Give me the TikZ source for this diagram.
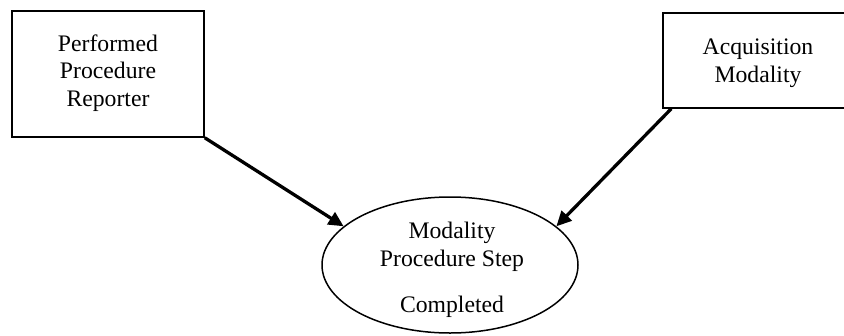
\documentclass[tikz,border=0pt]{standalone}
\usepackage{fontspec}
\setmainfont{Liberation Serif}
\usetikzlibrary{shapes.geometric,arrows.meta,calc}
\tikzset{
  boxnode/.style={draw, line width=1.5pt, inner sep=0pt},
  txt/.style={font=\fontsize{23.7}{27.5}\selectfont, align=center, inner sep=0pt},
  conn/.style={line width=3.3pt, -{Triangle[length=15pt,width=14pt]}}
}
\begin{document}
\begin{tikzpicture}[x=1pt,y=-1pt]
\clip (0,0) rectangle (844,335);
\fill[white] (0,0) rectangle (844,335);
\node[boxnode, minimum width=192pt, minimum height=126pt] (left) at (108,74) {};
\node[txt] (lefttxt) at (108,73) {Performed\\Procedure\\Reporter};
\node[boxnode, minimum width=190pt, minimum height=95pt] (right) at (758,60.5) {};
\node[txt] (righttxt) at (758,63) {Acquisition\\Modality};
\node[draw, line width=1.5pt, ellipse, minimum width=256pt, minimum height=136pt, inner sep=0pt] (ell) at (450,265) {};
\node[txt] (elltxt1) at (452,247) {Modality\\Procedure Step};
\node[txt] (elltxt2) at (452,307) {Completed};
\draw[conn] (left.south east) -- (ell.160);
\draw[conn] ($(right.south west)+(9,0)$) -- (ell.20);
\end{tikzpicture}
\end{document}
